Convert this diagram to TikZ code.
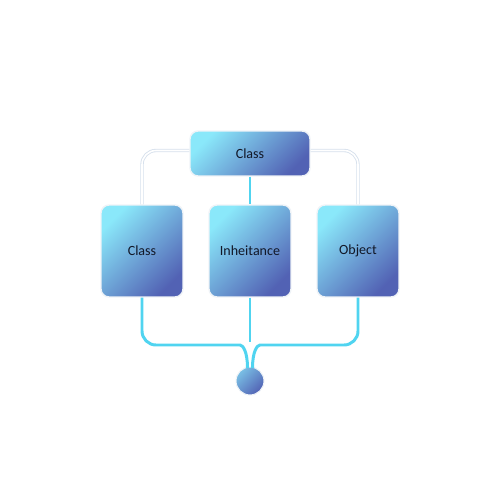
\documentclass[tikz,border=0pt]{standalone}
\usepackage{fontspec}
\setmainfont{Carlito}
\usetikzlibrary{calc}
\definecolor{boxlight}{RGB}{138,232,250}
\definecolor{boxdark}{RGB}{82,98,180}
\definecolor{wire}{RGB}{80,212,240}
\definecolor{pale}{RGB}{214,224,236}
\definecolor{ink}{RGB}{18,24,40}
\begin{document}
\begin{tikzpicture}[x=0.02cm,y=-0.02cm,
        card/.style={draw=pale!40!white,line width=0.8pt,rounded corners=0.16cm,
            top color=boxlight,bottom color=boxdark,shading angle=45,
            text=ink,font=\fontsize{8}{9}\selectfont,inner sep=0pt},
        link/.style={draw=wire,line width=1.7pt},
        pale link/.style={draw=pale,double=white,double distance=0.9pt,line width=0.5pt,rounded corners=0.28cm}]
        \useasboundingbox (0,0) rectangle (500,500);
        % nodes
        \node[card,minimum width=2.4cm,minimum height=0.9cm] (top) at (250,153.5) {Class};
        \node[card,minimum width=1.64cm,minimum height=1.84cm] (cls) at (142,251) {Class};
        \node[card,minimum width=1.64cm,minimum height=1.84cm] (inh) at (250,251) {Inheitance};
        \node[card,minimum width=1.64cm,minimum height=1.84cm] (obj) at (358,251) {Object};
        \node[circle,draw=pale!40!white,line width=0.6pt,minimum size=0.56cm,inner sep=0pt,
            top color=boxlight!70!boxdark,bottom color=boxdark,shading angle=45] (dot) at (250,381) {};
        \coordinate (stem) at (250,342);
        \coordinate (jl) at (226,345);
        \coordinate (jr) at (274,345);
        \coordinate (inl) at (247.5,368);
        \coordinate (inr) at (252.5,368);
        % upper connectors
        \draw[pale link] ($(top.west)+(0,-3)$) -| (cls.north);
        \draw[pale link] ($(top.east)+(0,-3)$) -| (obj.north);
        \draw[link] (top.south)--(inh.north);
        % lower connectors
        \draw[link] (inh.south)--(stem);
        \draw[link,rounded corners=0.28cm] (cls.south) |- (jl)
            [sharp corners] .. controls (243,345) and (247.5,352) .. (inl);
        \draw[link,rounded corners=0.28cm] (obj.south) |- (jr)
            [sharp corners] .. controls (257,345) and (252.5,352) .. (inr);
\end{tikzpicture}
\end{document}
